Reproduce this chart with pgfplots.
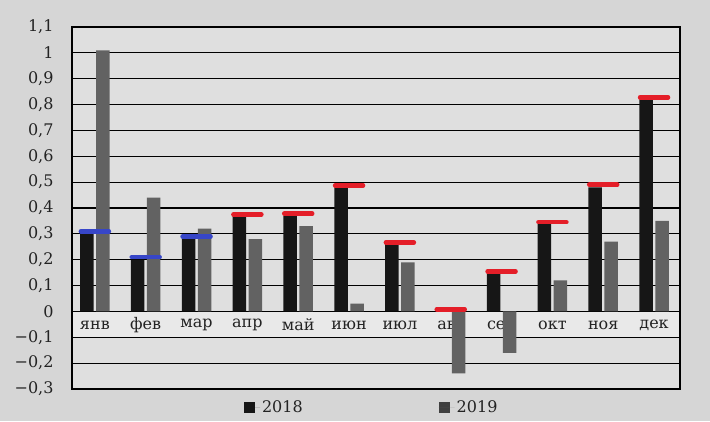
\documentclass[border=0pt]{standalone}
\usepackage{fontspec}
\setmainfont{DejaVu Serif}
\usepackage{pgfplots}
\pgfplotsset{compat=1.18}
\definecolor{pagebg}{RGB}{214,214,214}
\definecolor{plotbg}{RGB}{223,223,223}
\definecolor{stripbg}{RGB}{233,233,233}
\definecolor{darkbar}{RGB}{22,22,22}
\definecolor{graybar}{RGB}{98,98,98}
\definecolor{mblue}{RGB}{55,70,200}
\definecolor{mred}{RGB}{228,30,40}
\definecolor{txt}{RGB}{35,35,35}
\begin{document}
\begin{tikzpicture}
\fill[pagebg] (0,0) rectangle (710pt,421pt);
\fill[plotbg] (72pt,32pt) rectangle (680pt,394pt);
\fill[stripbg] (72pt,83.71pt) rectangle (680pt,109.57pt);
\begin{axis}[
  at={(72pt,32pt)}, anchor=south west,
  scale only axis, width=608pt, height=362pt,
  xmin=-0.45, xmax=11.51, ymin=-0.3, ymax=1.1,
  axis line style={black, line width=1.1pt},
  ymajorgrids, grid style={black, line width=1.1pt},
  major tick length=0pt,
  ytick={-0.3,-0.2,-0.1,0,0.1,0.2,0.3,0.4,0.5,0.6,0.7,0.8,0.9,1,1.1},
  yticklabels={{−0,3},{−0,2},{−0,1},0,{0,1},{0,2},{0,3},{0,4},{0,5},{0,6},{0,7},{0,8},{0,9},1,{1,1}},
  xtick={0,1,2,3,4,5,6,7,8,9,10,11},
  xticklabels={янв,фев,мар,апр,май,июн,июл,авг,сен,окт,ноя,дек},
  tick label style={font=\fontsize{16pt}{19pt}\selectfont, text=txt},
  yticklabel style={xshift=-15pt},
  xticklabel style={anchor=center, yshift=64pt},
  legend style={draw=none, fill=none, at={(axis description cs:0.493,0)}, yshift=-18pt,
    anchor=center, legend columns=2, font=\fontsize{16pt}{19pt}\selectfont, text=txt,
    /tikz/every even column/.append style={column sep=134pt}},
]
\addplot[ybar, bar width=13.5pt, bar shift=-8pt, fill=darkbar, draw=none,
  legend image code/.code={\fill[darkbar] (0pt,-5.5pt) rectangle (11pt,5.5pt); \path (0pt,0pt) -- (16pt,0pt);}]
  coordinates {(0,0.31) (1,0.20) (2,0.29) (3,0.37) (4,0.37) (5,0.48) (6,0.26) (7,0.01) (8,0.15) (9,0.34) (10,0.48) (11,0.82)};
\addlegendentry{2018}
\addplot[ybar, bar width=13.5pt, bar shift=8pt, fill=graybar, draw=none,
  legend image code/.code={\fill[graybar!65!black] (0pt,-5.5pt) rectangle (11pt,5.5pt); \path (0pt,0pt) -- (16pt,0pt);}]
  coordinates {(0,1.01) (1,0.44) (2,0.32) (3,0.28) (4,0.33) (5,0.03) (6,0.19) (7,-0.24) (8,-0.16) (9,0.12) (10,0.27) (11,0.35)};
\addlegendentry{2019}
\addplot[only marks, mark=-, mark size=14pt, color=mblue, forget plot,
  mark options={line width=4.5pt, line cap=round}]
  coordinates {(0,0.31) (1,0.21) (2,0.29)};
\addplot[only marks, mark=-, mark size=14pt, color=mred, forget plot,
  mark options={line width=4.5pt, line cap=round}]
  coordinates {(3,0.375) (4,0.378) (5,0.487) (6,0.267) (7,0.008) (8,0.155) (9,0.345) (10,0.49) (11,0.828)};
\end{axis}
\end{tikzpicture}
\end{document}
